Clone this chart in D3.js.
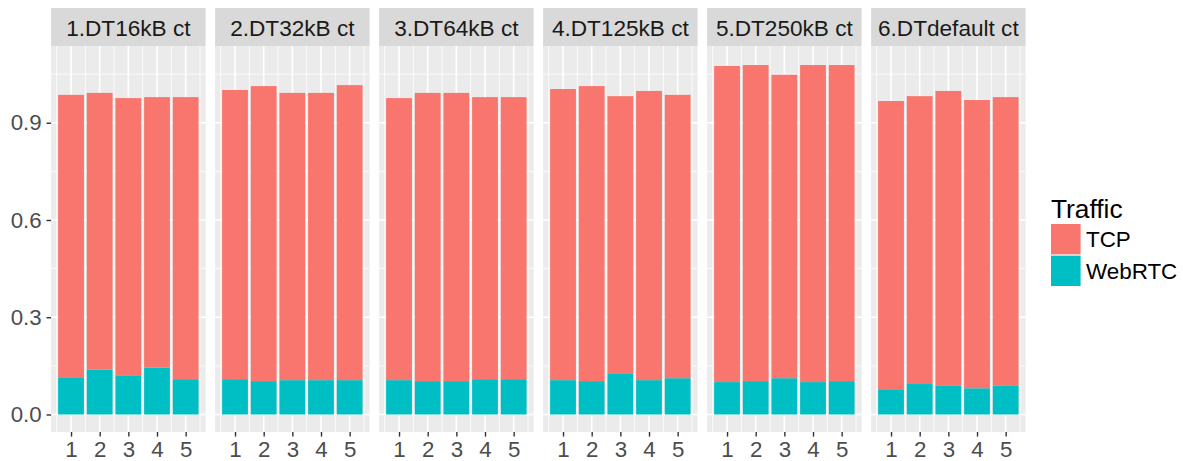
<!DOCTYPE html>
<html>
<head>
<meta charset="utf-8">
<script src="https://cdn.jsdelivr.net/npm/d3@7"></script>
<style>
  html, body { margin: 0; padding: 0; background: #ffffff; }
  svg { display: block; font-family: "Liberation Sans", Arial, Helvetica, sans-serif; }
</style>
</head>
<body>
<svg id="chart" width="1183" height="461"></svg>
<script>
// Facets (one per data-transfer setting), runs on the x axis, traffic types stacked
const facets = ["1.DT16kB ct", "2.DT32kB ct", "3.DT64kB ct", "4.DT125kB ct", "5.DT250kB ct", "6.DTdefault ct"];
const runs = [1, 2, 3, 4, 5];
const trafficTypes = ["TCP", "WebRTC"];
const trafficColors = ["#F8766D", "#00BFC4"];

// WebRTC share per run, one row per facet (bottom segment)
const webrtcValues = [
  [0.115, 0.138, 0.121, 0.144, 0.109],
  [0.109, 0.103, 0.106, 0.106, 0.106],
  [0.106, 0.103, 0.103, 0.109, 0.109],
  [0.106, 0.103, 0.125, 0.106, 0.112],
  [0.100, 0.103, 0.112, 0.100, 0.103],
  [0.078, 0.094, 0.090, 0.081, 0.090]
];
// TCP share per run, one row per facet (stacked on top of WebRTC)
const tcpValues = [
  [0.871, 0.854, 0.855, 0.835, 0.870],
  [0.892, 0.910, 0.886, 0.886, 0.910],
  [0.870, 0.889, 0.889, 0.870, 0.870],
  [0.898, 0.910, 0.857, 0.892, 0.874],
  [0.975, 0.975, 0.936, 0.978, 0.975],
  [0.889, 0.888, 0.908, 0.889, 0.889]
];
const yTicks = [0, 0.3, 0.6, 0.9];
const yMinorTicks = [0.15, 0.45, 0.75, 1.05];
const xMinorTicks = [0.5, 1.5, 2.5, 3.5, 4.5, 5.5];

const svg = d3.select("#chart");

const panelTop = 46, panelBottom = 432, stripTop = 8;
const axisTextColor = "#4D4D4D", tickColor = "#333333";
const fontAxis = 22.3;
const tickLen = 4.6;

// Facet placement
const facetScale = d3.scaleBand().domain(facets).range([51.1, 1025.6]).paddingInner(0.058).paddingOuter(0);
const pw = facetScale.bandwidth();

// Shared scales
const y = d3.scaleLinear().domain([-0.054, 1.1367]).range([panelBottom, panelTop]);
const x = d3.scaleLinear().domain([0.305, 5.695]).range([0, pw]);
const barWidth = x(0.9) - x(0);
const color = d3.scaleOrdinal().domain(trafficTypes).range(trafficColors);

facets.forEach((name, fi) => {
  const g = svg.append("g").attr("transform", `translate(${facetScale(name)},0)`);

  // strip
  g.append("rect").attr("x", 0).attr("y", stripTop).attr("width", pw).attr("height", panelTop - stripTop)
    .attr("fill", "#D9D9D9");
  g.append("text").attr("x", pw / 2).attr("y", 35.9).attr("text-anchor", "middle")
    .attr("font-size", 22.6).attr("fill", "#1A1A1A").text(name);

  // panel background
  g.append("rect").attr("x", 0).attr("y", panelTop).attr("width", pw).attr("height", panelBottom - panelTop)
    .attr("fill", "#EBEBEB");

  // grid
  g.selectAll(".ymin").data(yMinorTicks).join("line")
    .attr("x1", 0).attr("x2", pw).attr("y1", d => y(d)).attr("y2", d => y(d))
    .attr("stroke", "#FFFFFF").attr("stroke-width", 0.8);
  g.selectAll(".xmin").data(xMinorTicks).join("line")
    .attr("x1", d => x(d)).attr("x2", d => x(d)).attr("y1", panelTop).attr("y2", panelBottom)
    .attr("stroke", "#FFFFFF").attr("stroke-width", 0.8);
  g.selectAll(".ymaj").data(yTicks).join("line")
    .attr("x1", 0).attr("x2", pw).attr("y1", d => y(d)).attr("y2", d => y(d))
    .attr("stroke", "#FFFFFF").attr("stroke-width", 1.6);
  g.selectAll(".xmaj").data(runs).join("line")
    .attr("x1", d => x(d)).attr("x2", d => x(d)).attr("y1", panelTop).attr("y2", panelBottom)
    .attr("stroke", "#FFFFFF").attr("stroke-width", 1.6);

  // stacked bars
  const rows = runs.map((r, i) => ({ run: r, WebRTC: webrtcValues[fi][i], TCP: tcpValues[fi][i] }));
  const stacked = d3.stack().keys(["WebRTC", "TCP"])(rows);
  stacked.forEach(layer => {
    g.append("g").selectAll("rect").data(layer).join("rect")
      .attr("x", d => x(d.data.run) - barWidth / 2)
      .attr("width", barWidth)
      .attr("y", d => y(d[1]))
      .attr("height", d => y(d[0]) - y(d[1]))
      .attr("fill", color(layer.key));
  });

  // x axis ticks and labels
  const xa = g.append("g").attr("transform", `translate(0,${panelBottom})`)
    .call(d3.axisBottom(x).tickValues(runs).tickFormat(d3.format("d")).tickSize(tickLen).tickPadding(4.6));
  xa.select(".domain").remove();
  xa.selectAll("line").attr("stroke", tickColor).attr("stroke-width", 1.4);
  xa.selectAll("text").attr("font-size", fontAxis).attr("fill", axisTextColor)
    .attr("font-family", "Liberation Sans, Arial, sans-serif");
});

// y axis on the left of the first facet
const ya = svg.append("g").attr("transform", `translate(${facetScale(facets[0])},0)`)
  .call(d3.axisLeft(y).tickValues(yTicks).tickFormat(d3.format(".1f")).tickSize(tickLen).tickPadding(4.8));
ya.select(".domain").remove();
ya.selectAll("line").attr("stroke", tickColor).attr("stroke-width", 1.4);
ya.selectAll("text").attr("font-size", fontAxis).attr("fill", axisTextColor)
  .attr("font-family", "Liberation Sans, Arial, sans-serif");

// legend
const legend = svg.append("g").attr("transform", "translate(1051,0)");
legend.append("text").attr("x", 0).attr("y", 218).attr("font-size", 26.3).attr("fill", "#000000").text("Traffic");
const keyY = d3.scaleBand().domain(trafficTypes).range([224, 286]).paddingInner(0.04);
trafficTypes.forEach(t => {
  legend.append("rect").attr("x", 0).attr("y", keyY(t)).attr("width", 29.6).attr("height", keyY.bandwidth())
    .attr("fill", color(t));
  legend.append("text").attr("x", 35).attr("y", keyY(t) + keyY.bandwidth() / 2).attr("dy", "0.35em")
    .attr("font-size", 22.4).attr("fill", "#000000").text(t);
});
</script>
</body>
</html>
